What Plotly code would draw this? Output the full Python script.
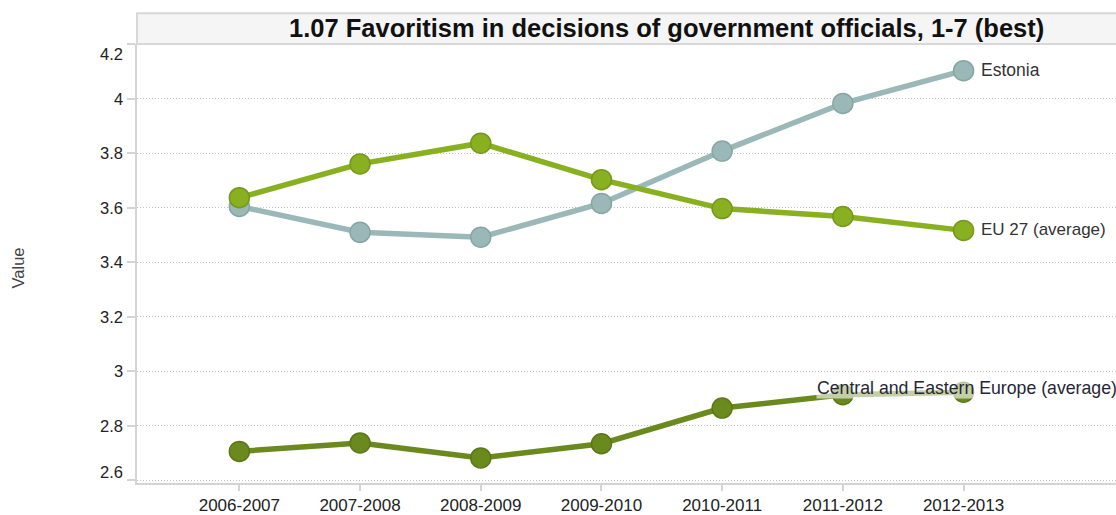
import plotly.graph_objects as go

categories = ["2006-2007", "2007-2008", "2008-2009", "2009-2010", "2010-2011", "2011-2012", "2012-2013"]
estonia = [3.604, 3.509, 3.491, 3.615, 3.807, 3.982, 4.102]
eu27 = [3.636, 3.760, 3.836, 3.702, 3.596, 3.567, 3.516]
cee = [2.705, 2.736, 2.681, 2.733, 2.864, 2.913, 2.922]
series_names = ["Estonia", "EU 27 (average)", "Central and Eastern Europe (average)"]
y_ticks = [2.6, 2.8, 3.0, 3.2, 3.4, 3.6, 3.8, 4.0, 4.2]
y_tick_text = ["2.6", "2.8", "3", "3.2", "3.4", "3.6", "3.8", "4", "4.2"]
title_text = "1.07 Favoritism in decisions of government officials, 1-7 (best)"

W, H = 1116, 515
ml, mr, mt, mb = 137, 0, 44, 29
PW, PH = W - ml - mr, H - mt - mb
FONT = "Liberation Sans, Arial, sans-serif"
Y_RANGE = [2.589, 4.2]

styles = [
    dict(color="#9bb8b8", edge="#88a5a5"),
    dict(color="#88b020", edge="#76981b"),
    dict(color="#6a8a1e", edge="#5b7719"),
]

fig = go.Figure()
x_idx = list(range(len(categories)))
for vals, st, name in zip([estonia, eu27, cee], styles, series_names):
    fig.add_trace(go.Scatter(
        x=x_idx, y=vals, mode="lines+markers", name=name,
        line=dict(color=st["color"], width=5.5),
        marker=dict(size=20, color=st["color"], line=dict(color=st["edge"], width=1.5)),
        showlegend=False, cliponaxis=False,
    ))

# end labels
fig.add_annotation(x=x_idx[-1], y=estonia[-1], text=series_names[0], showarrow=False,
                   xanchor="left", xshift=15, yshift=1, font=dict(family=FONT, size=17.5, color="#333"))
fig.add_annotation(x=x_idx[-1], y=eu27[-1], text=series_names[1], showarrow=False,
                   xanchor="left", xshift=15, yshift=1, font=dict(family=FONT, size=17, color="#333"))
fig.add_annotation(x=1.0, xref="paper", y=cee[-1], text=series_names[2], showarrow=False,
                   xanchor="right", xshift=2, yshift=4, bgcolor="rgba(255,255,255,0.6)", borderpad=0,
                   font=dict(family=FONT, size=17.7, color="#262636"))

# title band
band_h = 31 / PH
fig.add_shape(type="rect", xref="paper", yref="paper", x0=0, x1=1.005, y0=1, y1=1 + band_h,
              fillcolor="#f5f5f5", line=dict(color="#d8d8d8", width=2), layer="below")
fig.add_annotation(xref="paper", yref="paper", x=(666.5 - ml) / PW, y=1 + band_h / 2,
                   text="<b>" + title_text + "</b>", showarrow=False, xanchor="center", yanchor="middle",
                   yshift=1, font=dict(family=FONT, size=25.5, color="#111"))

# y-axis title
fig.add_annotation(xref="paper", yref="paper", x=-(ml - 18) / PW, y=(486 - 270) / PH,
                   text="Value", textangle=-90, showarrow=False, xanchor="center", yanchor="middle",
                   font=dict(family=FONT, size=16.5, color="#444"))

# y tick labels (extremes nudged inside the plot height, as in the reference)
for v, t in zip(y_ticks, y_tick_text):
    shift = -10 if v == y_ticks[-1] else (8 if v == y_ticks[0] else 0)
    yp = (v - Y_RANGE[0]) / (Y_RANGE[1] - Y_RANGE[0])
    fig.add_annotation(xref="paper", yref="paper", x=-(ml - 125) / PW, y=yp, text=t, showarrow=False,
                       xanchor="right", yanchor="middle", yshift=shift,
                       font=dict(family=FONT, size=16.5, color="#222"))

fig.update_layout(
    width=W, height=H,
    margin=dict(l=ml, r=mr, t=mt, b=mb),
    plot_bgcolor="white", paper_bgcolor="white",
    font=dict(family=FONT, size=17, color="#333"),
    xaxis=dict(
        range=[-0.848, 7.263], tickmode="array", tickvals=x_idx, ticktext=categories,
        showgrid=False, zeroline=False, showline=True, linecolor="#d4d4d4", linewidth=2,
        ticks="outside", ticklen=6, tickcolor="#d4d4d4", tickwidth=1.5,
        tickfont=dict(family=FONT, size=17, color="#222"),
    ),
    yaxis=dict(
        range=Y_RANGE, tickmode="array", tickvals=y_ticks, showticklabels=False,
        showgrid=True, gridcolor="#c4c4c4", griddash="1px,2px", gridwidth=1,
        zeroline=False, showline=True, linecolor="#d4d4d4", linewidth=2,
        ticks="outside", ticklen=8, tickcolor="#d4d4d4", tickwidth=1.5,
    ),
)

fig.write_html("out.html", config={"displayModeBar": False},
               post_script="document.body.style.margin='0';document.body.style.overflow='hidden';")
